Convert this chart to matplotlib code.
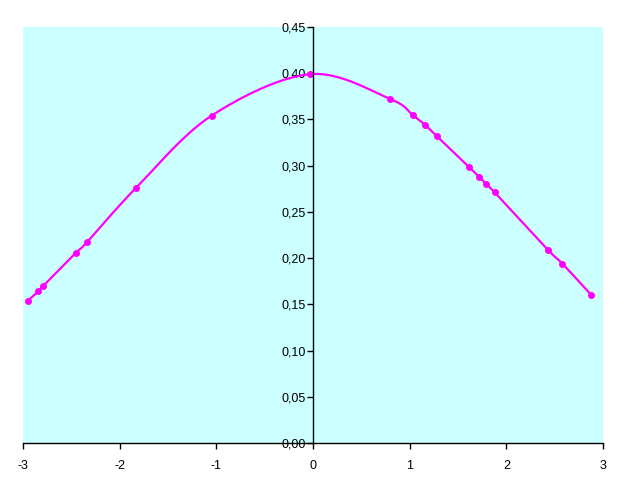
import numpy as np
import matplotlib
matplotlib.use("Agg")
import matplotlib.pyplot as plt
from matplotlib.ticker import FuncFormatter

x_vals = [-2.95, -2.84, -2.79, -2.45, -2.34, -1.83, -1.05, -0.03,
          0.80, 1.03, 1.16, 1.28, 1.61, 1.72, 1.79, 1.88, 2.43, 2.58, 2.88]
y_vals = [0.154, 0.164, 0.170, 0.206, 0.217, 0.276, 0.354, 0.399,
          0.372, 0.355, 0.344, 0.332, 0.299, 0.288, 0.280, 0.271, 0.209, 0.194, 0.160]
x_ticks = [-3, -2, -1, 0, 1, 2, 3]
y_ticks = [0.00, 0.05, 0.10, 0.15, 0.20, 0.25, 0.30, 0.35, 0.40, 0.45]

def catmull_rom(xs, ys, n=20):
    xs = np.asarray(xs, float); ys = np.asarray(ys, float)
    px = np.concatenate([[xs[0]], xs, [xs[-1]]])
    py = np.concatenate([[ys[0]], ys, [ys[-1]]])
    outx, outy = [], []
    t = np.linspace(0, 1, n, endpoint=False)
    for i in range(1, len(px) - 2):
        p0x, p1x, p2x, p3x = px[i-1:i+3]
        p0y, p1y, p2y, p3y = py[i-1:i+3]
        # cubic bezier control points (Excel-like smoothing)
        c1x = p1x + (p2x - p0x) / 6; c1y = p1y + (p2y - p0y) / 6
        c2x = p2x - (p3x - p1x) / 6; c2y = p2y - (p3y - p1y) / 6
        bx = (1-t)**3*p1x + 3*(1-t)**2*t*c1x + 3*(1-t)*t**2*c2x + t**3*p2x
        by = (1-t)**3*p1y + 3*(1-t)**2*t*c1y + 3*(1-t)*t**2*c2y + t**3*p2y
        outx.extend(bx); outy.extend(by)
    outx.append(xs[-1]); outy.append(ys[-1])
    return np.array(outx), np.array(outy)

plt.rcParams['font.family'] = ['Liberation Sans', 'DejaVu Sans']

fig = plt.figure(figsize=(6.28, 4.91), dpi=100)
ax = fig.add_axes([23/628, 48/491, 580/628, 416/491])
ax.set_facecolor('#CCFFFF')

sx, sy = catmull_rom(x_vals, y_vals)
ax.plot(sx, sy, color='#FF00FF', lw=1.6, zorder=3)
ax.plot(x_vals, y_vals, 'o', color='#FF00FF', ms=4, zorder=4)

ax.set_xlim(-3, 3)
ax.set_ylim(0, 0.45)
ax.set_xticks(x_ticks)
ax.set_yticks(y_ticks)
ax.yaxis.set_major_formatter(FuncFormatter(lambda v, p: f"{v:.2f}".replace('.', ',')))
ax.xaxis.set_major_formatter(FuncFormatter(lambda v, p: f"{int(round(v))}"))

ax.spines['top'].set_visible(False)
ax.spines['right'].set_visible(False)
ax.spines['left'].set_position(('data', 0))
ax.spines['left'].set_zorder(5)
ax.spines['bottom'].set_linewidth(1.0)
ax.spines['left'].set_linewidth(1.0)
ax.tick_params(axis='both', direction='out', length=4, width=1, labelsize=9, colors='black')
ax.tick_params(axis='x', pad=8)
ax.tick_params(axis='y', pad=1)

fig.savefig('out.png', dpi=100)
